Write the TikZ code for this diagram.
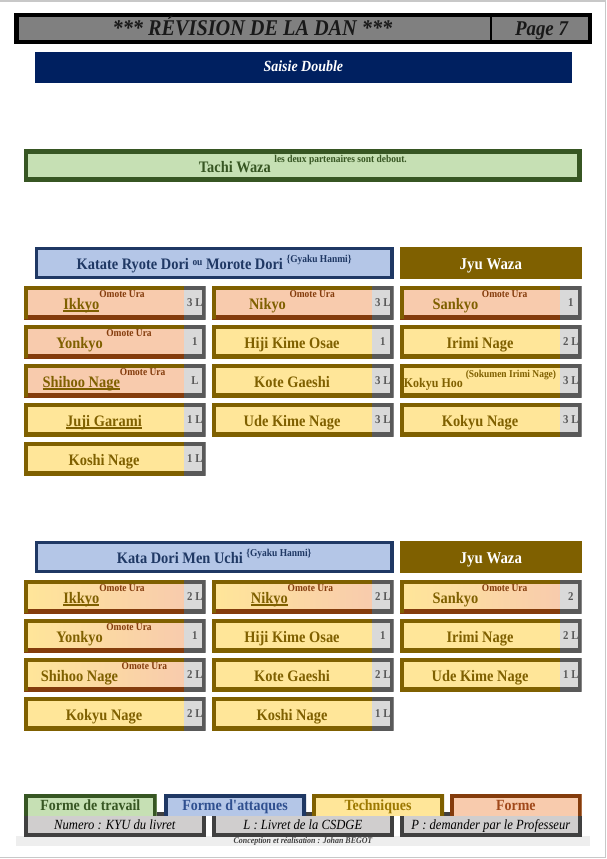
\documentclass[tikz,border=0pt]{standalone}
\usepackage{fontspec}
\setmainfont{Liberation Serif}[FakeStretch=0.9]
\usetikzlibrary{positioning}

\definecolor{dore}{HTML}{7F6000}
\definecolor{jaune}{HTML}{FFE699}
\definecolor{rose}{HTML}{F8CBAD}
\definecolor{rouille}{HTML}{843C0C}
\definecolor{grisclair}{HTML}{D9D9D9}
\definecolor{grisfonce}{HTML}{595959}
\definecolor{bleuclair}{HTML}{B4C6E7}
\definecolor{marine}{HTML}{1F3864}
\definecolor{bleutexte}{HTML}{2F4F8F}
\definecolor{nuit}{HTML}{002060}
\definecolor{vertclair}{HTML}{C6E0B4}
\definecolor{vertfonce}{HTML}{375623}
\definecolor{grislegende}{HTML}{D0CECE}
\definecolor{anthracite}{HTML}{404040}
\definecolor{grispied}{HTML}{EEEEEE}
\definecolor{cadrepage}{HTML}{C8C8C8}
\definecolor{grisentete}{HTML}{808080}
\definecolor{oronglet}{HTML}{9C7800}
\definecolor{rouilleonglet}{HTML}{A0481A}

\newcommand{\exposant}[1]{\raisebox{12pt}{\fontsize{10.5}{11}\selectfont\color{rouille}#1}}
\newcommand{\petit}[2]{\raisebox{#1}{\fontsize{10.5}{11}\selectfont #2}}
\newcommand{\souligne}[1]{\leavevmode\setbox0\hbox{#1}\rlap{\rule[-3pt]{\wd0}{1.8pt}}\box0}

\tikzset{
    technique/.style={rectangle, anchor=north west, inner sep=0pt, outer sep=0pt,
        minimum width=160pt, minimum height=33pt, text height=13pt, text depth=0pt,
        text=dore, font=\fontsize{16}{17}\selectfont\bfseries},
    techjaune/.style={technique, fill=jaune,
        path picture={\draw[line width=8pt, dore] (path picture bounding box.south east) -- (path picture bounding box.south west) -- (path picture bounding box.north west) -- (path picture bounding box.north east);}},
    techrose/.style={technique, fill=rose,
        path picture={\draw[line width=8pt, rouille] (path picture bounding box.south west) -- (path picture bounding box.south east);
            \draw[line width=8pt, dore] (path picture bounding box.south west) -- (path picture bounding box.north west) -- (path picture bounding box.north east);}},
    techdegrade/.style={techrose, left color=jaune, right color=rose},
    nombre/.style={rectangle, inner sep=0pt, outer sep=0pt, minimum width=21.7pt, minimum height=33pt,
        fill=grisclair, text=grisfonce, font=\fontsize{12}{13}\selectfont\bfseries, text height=7.6pt, text depth=0pt,
        path picture={\draw[line width=8pt, grisfonce] (path picture bounding box.north west) -- (path picture bounding box.north east) -- (path picture bounding box.south east) -- (path picture bounding box.south west);}},
    entete/.style={draw=black, line width=4.5pt, fill=grisentete, minimum width=573.5pt, minimum height=27.1pt, inner sep=0pt, outer sep=0pt},
    titre/.style={inner sep=0pt, text=black!90, font=\fontsize{22.5}{24}\selectfont\bfseries\itshape, text height=15pt, text depth=0pt},
    bandeau/.style={fill=nuit, text=white, font=\fontsize{15.5}{17}\selectfont\bfseries\itshape, minimum width=536.7pt, minimum height=31pt,
        inner sep=0pt, text height=9pt, text depth=0pt},
    forme/.style={draw=vertfonce, line width=4.3pt, fill=vertclair, text=vertfonce, font=\fontsize{16}{17}\selectfont\bfseries,
        minimum width=553.4pt, minimum height=28.1pt, inner sep=0pt, text height=13pt, text depth=0pt},
    attaque/.style={draw=marine, line width=3.4pt, fill=bleuclair, text=marine, font=\fontsize{16}{17}\selectfont\bfseries,
        minimum width=355.8pt, minimum height=29.2pt, inner sep=0pt, text height=12pt, text depth=0pt},
    jyu/.style={fill=dore, text=white, font=\fontsize{16.5}{17}\selectfont\bfseries, minimum width=181.7pt, minimum height=32.6pt,
        inner sep=0pt, text height=12.6pt, text depth=0pt},
    legende/.style={draw=anthracite, line width=4pt, fill=grislegende, text=black, font=\fontsize{14}{15}\selectfont\itshape,
        minimum width=177.7pt, minimum height=21pt, inner sep=0pt, text height=9pt, text depth=0pt},
    onglet/.style n args={3}{rectangle, anchor=north west, inner sep=0pt, outer sep=0pt, minimum height=22pt,
        fill=#1, text=#3, font=\fontsize{15.5}{17}\selectfont\bfseries, text height=11.4pt, text depth=0pt,
        path picture={\draw[line width=8pt, #2] (path picture bounding box.south west) -- (path picture bounding box.north west) -- (path picture bounding box.north east) -- (path picture bounding box.south east);}},
    pied/.style={fill=grispied, text=anthracite, font=\fontsize{8.8}{9}\selectfont\bfseries\itshape, minimum width=574pt, minimum height=10pt,
        inner sep=0pt, text height=6pt, text depth=0pt}
}

\begin{document}
\begin{tikzpicture}[x=1pt, y=-1pt]
                \useasboundingbox (0,0) rectangle (607,859);
                \draw[cadrepage, line width=1.5pt] (0,1) -- (605.5,1) -- (605.5,857.5) -- (0,857.5);

                \node[entete] (entete) at (303,28.5) {};
                \node[titre] (titre) at (252.5,28.5) {*** RÉVISION DE LA DAN ***};
                \node[titre, minimum width=101pt, font=\fontsize{21}{22}\selectfont\bfseries\itshape] (page) at (541.5,28.5) {Page 7};
                \draw[black, line width=2.5pt] (page.west |- entete.north) -- (page.west |- entete.south);
                \node[bandeau] (saisie) at (303.35,67.2) {Saisie Double};

                \node[forme] (tachi) at (302.85,165.5) {Tachi Waza \raisebox{9.5pt}{\fontsize{10.5}{11}\selectfont les deux partenaires sont debout.}};

                \node[attaque] (katate) at (214.1,263) {Katate Ryote Dori \petit{4pt}{ou} Morote Dori \petit{6.5pt}{\{Gyaku Hanmi\}}};
                \node[jyu] (jyu1) at (490.85,263) {Jyu Waza};

                \node[techrose] (ka11) at (24,286) {\souligne{Ikkyo} \exposant{Omote Ura}};
                \node[nombre, right=0pt of ka11] (ka11n) {3 L};
                \node[techrose] (ka12) at (212,286) {Nikyo \exposant{Omote Ura}};
                \node[nombre, right=0pt of ka12] (ka12n) {3 L};
                \node[techrose] (ka13) at (400,286) {Sankyo \exposant{Omote Ura}};
                \node[nombre, right=0pt of ka13] (ka13n) {1};

                \node[techrose] (ka21) at (24,325) {Yonkyo \exposant{Omote Ura}};
                \node[nombre, right=0pt of ka21] (ka21n) {1};
                \node[techjaune] (ka22) at (212,325) {Hiji Kime Osae};
                \node[nombre, right=0pt of ka22] (ka22n) {1};
                \node[techjaune] (ka23) at (400,325) {Irimi Nage};
                \node[nombre, right=0pt of ka23] (ka23n) {2 L};

                \node[techrose] (ka31) at (24,364) {\souligne{Shihoo Nage} \exposant{Omote Ura}};
                \node[nombre, right=0pt of ka31] (ka31n) {L};
                \node[techjaune] (ka32) at (212,364) {Kote Gaeshi};
                \node[nombre, right=0pt of ka32] (ka32n) {3 L};
                \node[techjaune] (ka33) at (400,364) {\fontsize{13.3}{14}\selectfont Kokyu Hoo \petit{10pt}{(Sokumen Irimi Nage)}};
                \node[nombre, right=0pt of ka33] (ka33n) {3 L};

                \node[techjaune] (ka41) at (24,403) {\souligne{Juji Garami}};
                \node[nombre, right=0pt of ka41] (ka41n) {1 L};
                \node[techjaune] (ka42) at (212,403) {Ude Kime Nage};
                \node[nombre, right=0pt of ka42] (ka42n) {3 L};
                \node[techjaune] (ka43) at (400,403) {Kokyu Nage};
                \node[nombre, right=0pt of ka43] (ka43n) {3 L};

                \node[techjaune] (ka51) at (24,442) {Koshi Nage};
                \node[nombre, right=0pt of ka51] (ka51n) {1 L};

                \node[attaque] (katadori) at (214.1,557) {Kata Dori Men Uchi \petit{6.5pt}{\{Gyaku Hanmi\}}};
                \node[jyu] (jyu2) at (490.85,557) {Jyu Waza};

                \node[techdegrade] (kd11) at (24,580) {\souligne{Ikkyo} \exposant{Omote Ura}};
                \node[nombre, right=0pt of kd11] (kd11n) {2 L};
                \node[techdegrade] (kd12) at (212,580) {\souligne{Nikyo} \exposant{Omote Ura}};
                \node[nombre, right=0pt of kd12] (kd12n) {2 L};
                \node[techdegrade] (kd13) at (400,580) {Sankyo \exposant{Omote Ura}};
                \node[nombre, right=0pt of kd13] (kd13n) {2};

                \node[techdegrade] (kd21) at (24,619) {Yonkyo \exposant{Omote Ura}};
                \node[nombre, right=0pt of kd21] (kd21n) {1};
                \node[techjaune] (kd22) at (212,619) {Hiji Kime Osae};
                \node[nombre, right=0pt of kd22] (kd22n) {1};
                \node[techjaune] (kd23) at (400,619) {Irimi Nage};
                \node[nombre, right=0pt of kd23] (kd23n) {2 L};

                \node[techdegrade] (kd31) at (24,658) {Shihoo Nage \exposant{Omote Ura}};
                \node[nombre, right=0pt of kd31] (kd31n) {2 L};
                \node[techjaune] (kd32) at (212,658) {Kote Gaeshi};
                \node[nombre, right=0pt of kd32] (kd32n) {2 L};
                \node[techjaune] (kd33) at (400,658) {Ude Kime Nage};
                \node[nombre, right=0pt of kd33] (kd33n) {1 L};

                \node[techjaune] (kd41) at (24,697) {Kokyu Nage};
                \node[nombre, right=0pt of kd41] (kd41n) {2 L};
                \node[techjaune] (kd42) at (212,697) {Koshi Nage};
                \node[nombre, right=0pt of kd42] (kd42n) {1 L};

                \node[pied] (pied) at (303,840.5) {Conception et réalisation : Johan BEGOT};
                \node[legende] (leg1) at (114.85,824.5) {Numero : KYU du livret};
                \node[legende] (leg2) at (302.85,824.5) {L : Livret de la CSDGE};
                \node[legende] (leg3) at (490.85,824.5) {P : demander par le Professeur};
                \node[onglet={vertclair}{vertfonce}{vertfonce}, minimum width=132.7pt] (ong1) at (24,794) {Forme de travail};
                \node[onglet={bleuclair}{marine}{bleutexte}, minimum width=142pt] (ong2) at (164,794) {Forme d\textquotesingle attaques};
                \node[onglet={jaune}{dore}{oronglet}, minimum width=132pt] (ong3) at (312,794) {Techniques};
                \node[onglet={rose}{rouille}{rouilleonglet}, minimum width=131.7pt] (ong4) at (450,794) {Forme};
\end{tikzpicture}
\end{document}
